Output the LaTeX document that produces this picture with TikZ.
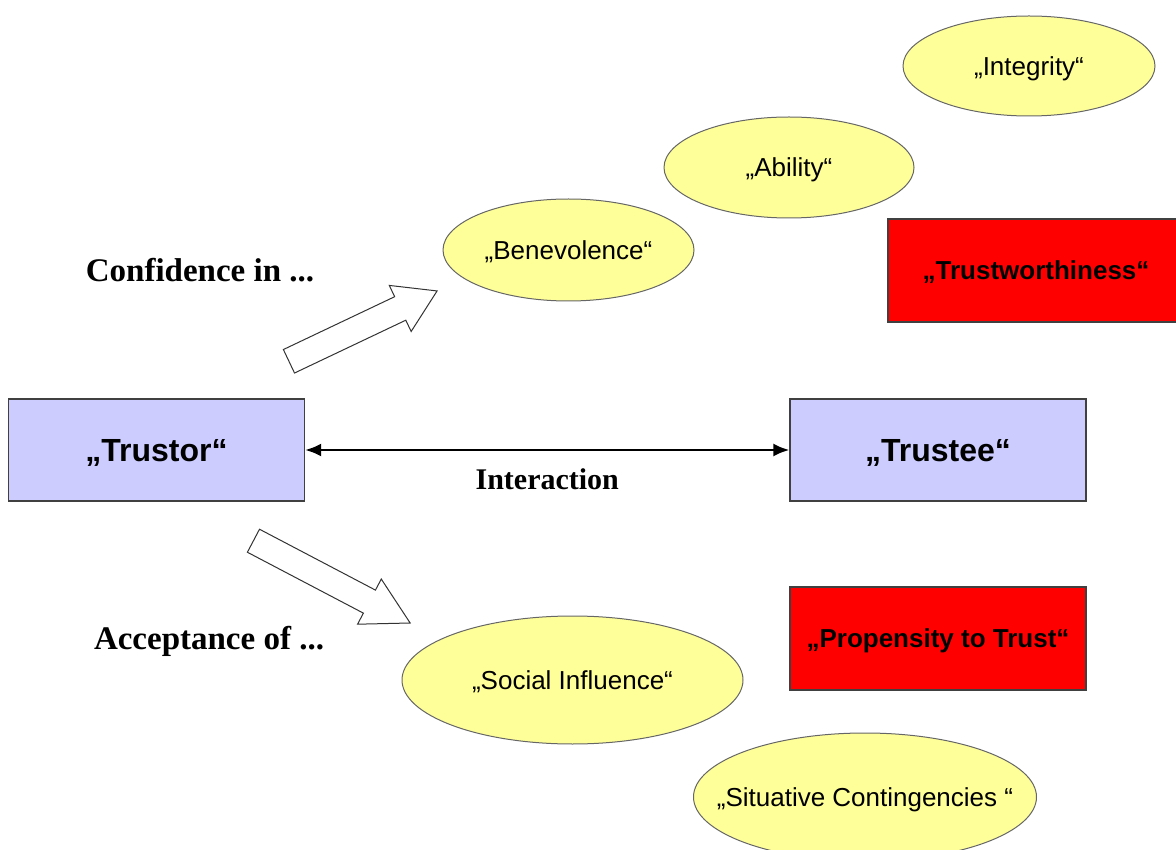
\documentclass[tikz,border=0pt]{standalone}
\usepackage{fontspec}
\setmainfont{Liberation Serif}
\newfontfamily\arialfont{Liberation Sans}
\usepackage{tikz}
\usetikzlibrary{arrows.meta,shapes.geometric,shapes.arrows}
\definecolor{actorblue}{RGB}{204,204,255}
\definecolor{factoryellow}{RGB}{255,255,153}
\tikzset{
  factorell/.style={ellipse, draw=black!60, fill=factoryellow, line width=1pt, align=center, inner sep=0pt, text depth=0pt, font=\arialfont\fontsize{26}{31}\selectfont},
  actorbox/.style={rectangle, draw=black!75, fill=actorblue, line width=1.2pt, minimum width=296pt, minimum height=102pt, text depth=0pt, font=\arialfont\bfseries\fontsize{32}{38}\selectfont},
  sourcebox/.style={rectangle, draw=black!75, fill=red, line width=1.2pt, minimum width=296pt, minimum height=103pt, text depth=0pt, font=\arialfont\bfseries\fontsize{26}{31}\selectfont},
  sidelabel/.style={font=\bfseries\fontsize{33}{40}\selectfont},
  hollowarrow/.style={single arrow, draw=black!80, fill=white, line width=1pt, inner sep=0pt, inner ysep=12.5pt, single arrow head extend=12.5pt, anchor=tail},
  interarrow/.style={{Latex[length=16pt,width=13pt]}-{Latex[length=16pt,width=13pt]}, line width=2.5pt}
}
\begin{document}
\begin{tikzpicture}[x=1pt,y=-1pt]
\useasboundingbox (0,0) rectangle (1176,850);
% trustee qualities
\node[factorell, minimum width=252pt, minimum height=100pt] (integrity) at (1029,66) {„Integrity“};
\node[factorell, minimum width=250pt, minimum height=101pt] (ability) at (789,167.5) {„Ability“};
\node[factorell, minimum width=251pt, minimum height=102pt] (benevolence) at (568.5,250) {„Benevolence“};
\node[sourcebox] (trustworthy) at (1036,270.5) {„Trustworthiness“};
% actors
\node[actorbox] (trustor) at (156.5,450) {„Trustor“};
\node[actorbox] (trustee) at (938,450) {„Trustee“};
% context
\node[sourcebox] (propensity) at (938,638.5) {„Propensity to Trust“};
\node[factorell, minimum width=341pt, minimum height=128pt] (social) at (572.5,680) {„Social Influence“};
\node[factorell, minimum width=343pt, minimum height=128pt, inner xsep=-40pt] (situative) at (865,797) {„Situative Contingencies “};
% side labels and hollow arrows
\node[sidelabel] (confidence) at (200,270) {Confidence in ...};
\node[sidelabel] (acceptance) at (209,641) {Acceptance of ...};
\node[hollowarrow, rotate=25.4, minimum height=164pt, single arrow tip angle=64] (confarrow) at (288.5,361.5) {};
\node[hollowarrow, rotate=-27.7, minimum height=177pt, single arrow tip angle=58] (accarrow) at (253,540.5) {};
\draw[interarrow] (trustor) -- node[below=17pt, sidelabel, font=\bfseries\fontsize{30}{36}\selectfont, inner sep=0pt] (interaction) {Interaction} (trustee);
\end{tikzpicture}
\end{document}
